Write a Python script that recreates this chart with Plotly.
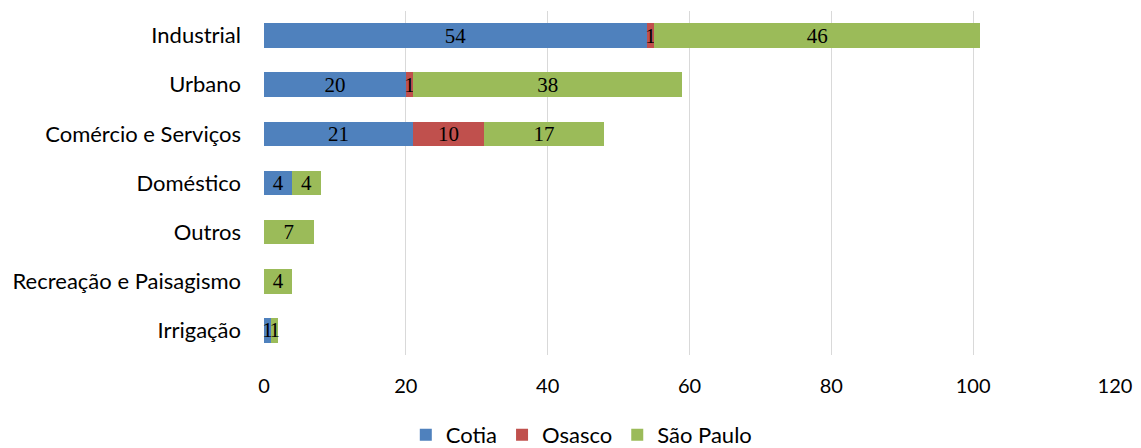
import plotly.graph_objects as go

categories = ["Industrial", "Urbano", "Comércio e Serviços", "Doméstico", "Outros",
              "Recreação e Paisagismo", "Irrigação"]
cotia = [54, 20, 21, 4, 0, 0, 1]
osasco = [1, 1, 10, 0, 0, 0, 0]
sao_paulo = [46, 38, 17, 4, 7, 4, 1]
x_ticks = [0, 20, 40, 60, 80, 100, 120]

series = [("Cotia", cotia, "#4f81bd"), ("Osasco", osasco, "#c0504d"), ("São Paulo", sao_paulo, "#9bbb59")]

fig = go.Figure()
for name, vals, color in series:
    fig.add_trace(go.Bar(
        y=categories, x=vals, name=name, orientation="h",
        marker=dict(color=color, line=dict(width=0)),
        text=[str(v) if v else "" for v in vals],
        textposition="inside", insidetextanchor="middle", textangle=0,
        textfont=dict(family="Liberation Serif", size=21, color="black"),
        constraintext="none", cliponaxis=False,
    ))

fig.update_layout(
    barmode="stack", bargap=0.5,
    width=1133, height=448,
    margin=dict(l=256, r=26, t=3, b=101),
    paper_bgcolor="white", plot_bgcolor="white",
    font=dict(family="Lato", size=22, color="black"),
    uniformtext=dict(minsize=21, mode="show"),
    legend=dict(orientation="h", xref="container", x=0.506, xanchor="center",
                yref="container", y=-0.02, yanchor="bottom",
                font=dict(size=22), traceorder="normal"),
    showlegend=True,
)
fig.update_xaxes(range=[0, 120], tickvals=x_ticks, showgrid=True, gridcolor="#d9d9d9",
                 gridwidth=1, zeroline=False, showline=False, ticklabelstandoff=17,
                 automargin=False, tickfont=dict(size=20))
fig.update_yaxes(categoryorder="array", categoryarray=categories[::-1],
                 showgrid=False, zeroline=False, showline=False, ticklabelstandoff=22,
                 automargin=False)

fig.write_html("out.html")
